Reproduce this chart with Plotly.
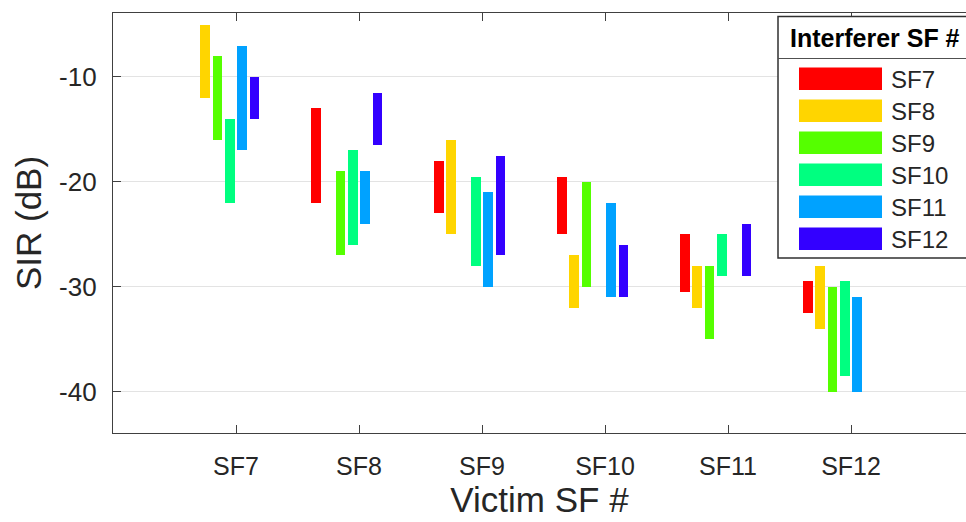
import plotly.graph_objects as go

# ---------------- data ----------------
victim_sf = ["SF7", "SF8", "SF9", "SF10", "SF11", "SF12"]
interferer_sf = ["SF7", "SF8", "SF9", "SF10", "SF11", "SF12"]

# upper / lower SIR (dB) of each floating bar, per interferer, across victims
sf7_top = [None, -13, -18, -19.5, -25, -29.5]
sf7_bot = [None, -22, -23, -25, -30.5, -32.5]
sf8_top = [-5, None, -16, -27, -28, -28]
sf8_bot = [-12, None, -25, -32, -32, -34]
sf9_top = [-8, -19, None, -20, -28, -30]
sf9_bot = [-16, -27, None, -30, -35, -40]
sf10_top = [-14, -17, -19.5, None, -25, -29.5]
sf10_bot = [-22, -26, -28, None, -29, -38.5]
sf11_top = [-7, -19, -21, -22, None, -31]
sf11_bot = [-17, -24, -30, -31, None, -40]
sf12_top = [-10, -11.5, -17.5, -26, -24, None]
sf12_bot = [-14, -16.5, -27, -31, -29, None]

y_ticks = [-10, -20, -30, -40]

tops = [sf7_top, sf8_top, sf9_top, sf10_top, sf11_top, sf12_top]
bots = [sf7_bot, sf8_bot, sf9_bot, sf10_bot, sf11_bot, sf12_bot]
colors = ["#FF0000", "#FFD500", "#55FF00", "#00FF80", "#00A2FF", "#3300FF"]

FONT = "Liberation Sans, Arial, Helvetica, sans-serif"
TXT = "#262626"

W, H = 966, 522
ML, MR, MT, MB = 113, 0, 13, 89

fig = go.Figure()
group_x = list(range(1, len(victim_sf) + 1))
for i, name in enumerate(interferer_sf):
    xs, base, height = [], [], []
    for g, t, b in zip(group_x, tops[i], bots[i]):
        if t is None or b is None:
            continue
        xs.append(g + (i - 3.5) * 0.1)
        base.append(b)
        height.append(t - b)
    fig.add_trace(go.Bar(
        x=xs, y=height, base=base, width=0.08, name=name,
        marker=dict(color=colors[i], line=dict(width=0)),
        showlegend=False,
    ))

# ---------------- manual legend (pixel -> paper helpers) ----------------
pw, ph = W - ML - MR, H - MT - MB
def px(x):
    return (x - ML) / pw
def py(y):
    return (H - MB - y) / ph

shapes = []
annotations = []
shapes.append(dict(type="rect", xref="paper", yref="paper",
                   x0=px(778), x1=px(975), y0=py(258), y1=py(16.5),
                   fillcolor="white", line=dict(color="#303030", width=1.5),
                   layer="above"))
shapes.append(dict(type="line", xref="paper", yref="paper",
                   x0=px(778), x1=px(975), y0=py(58.5), y1=py(58.5),
                   line=dict(color="#505050", width=1), layer="above"))
annotations.append(dict(xref="paper", yref="paper", x=px(875), y=py(38),
                        text="<b>Interferer SF #</b>", showarrow=False,
                        xanchor="center", yanchor="middle",
                        font=dict(family=FONT, size=25, color="black")))
for i, name in enumerate(interferer_sf):
    cy = 78.7 + i * 32
    shapes.append(dict(type="rect", xref="paper", yref="paper",
                       x0=px(799), x1=px(882), y0=py(cy + 11.3), y1=py(cy - 11.3),
                       fillcolor=colors[i], line=dict(width=0), layer="above"))
    annotations.append(dict(xref="paper", yref="paper", x=px(889), y=py(cy + 1),
                            text=name, showarrow=False,
                            xanchor="left", yanchor="middle",
                            font=dict(family=FONT, size=24, color=TXT)))

fig.update_layout(
    width=W, height=H,
    margin=dict(l=ML, r=MR, t=MT, b=MB, pad=0),
    paper_bgcolor="white", plot_bgcolor="white",
    font=dict(family=FONT, color=TXT),
    shapes=shapes, annotations=annotations,
    bargap=0,
)
fig.update_xaxes(
    range=[0, (W - ML) / 123.0], tickmode="array", tickvals=group_x, ticktext=victim_sf,
    ticks="inside", ticklen=8, tickcolor="#404040", tickwidth=1,
    showline=True, linecolor="#404040", linewidth=1.3, mirror="ticks",
    showgrid=False, zeroline=False,
    tickfont=dict(family=FONT, size=25, color=TXT),
    ticklabelstandoff=11,
    title=dict(text="Victim SF #", font=dict(family=FONT, size=35, color=TXT), standoff=8),
)
fig.update_yaxes(
    range=[-43.95, -3.9], tickmode="array", tickvals=y_ticks,
    ticktext=[str(v) for v in y_ticks],
    ticks="inside", ticklen=8, tickcolor="#404040", tickwidth=1,
    showline=True, linecolor="#404040", linewidth=1.3, mirror=False,
    showgrid=True, gridcolor="#E3E3E3", gridwidth=1, zeroline=False,
    tickfont=dict(family=FONT, size=26, color=TXT),
    ticklabelstandoff=10,
    title=dict(text="SIR (dB)", font=dict(family=FONT, size=35, color=TXT), standoff=6),
)

fig.write_html("out.html")
